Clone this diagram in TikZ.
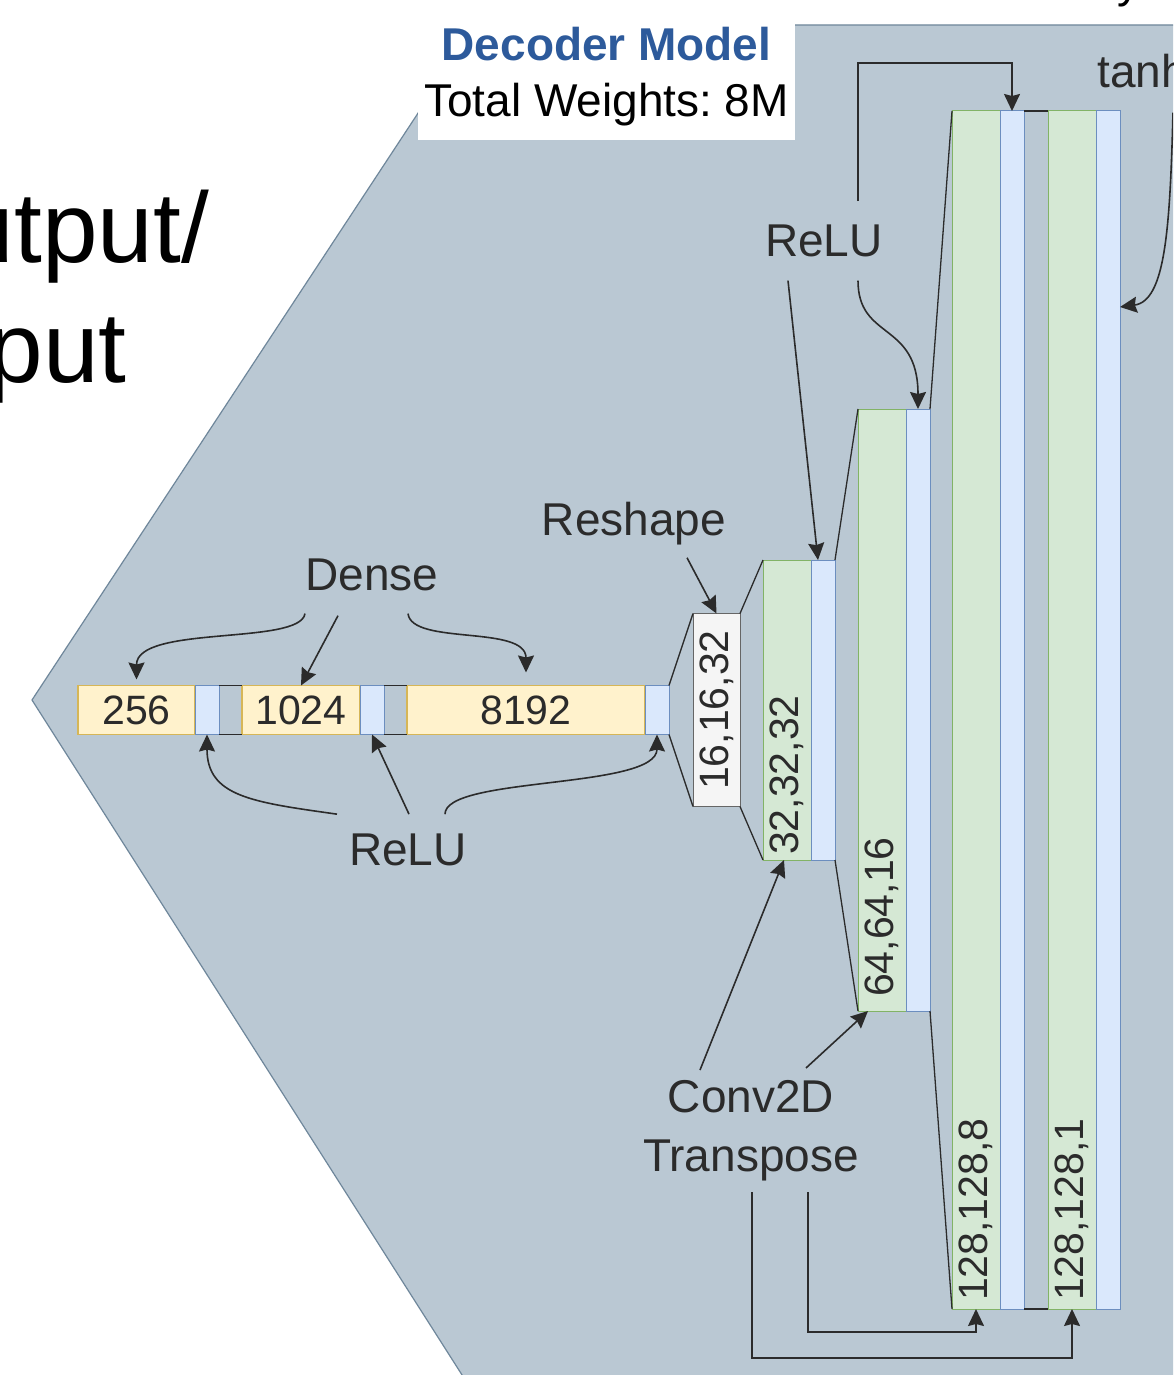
\documentclass[tikz,border=0pt]{standalone}
\usepackage{fontspec}
\setmainfont{Liberation Sans}
\usepackage{tikz}
\usetikzlibrary{arrows.meta,positioning,calc}
\definecolor{panel}{HTML}{BAC8D3}
\definecolor{panelline}{HTML}{6F879B}
\definecolor{densefill}{HTML}{FFF2CC}
\definecolor{denseline}{HTML}{D6B656}
\definecolor{actfill}{HTML}{DAE8FC}
\definecolor{actline}{HTML}{6C8EBF}
\definecolor{convfill}{HTML}{D5E8D4}
\definecolor{convline}{HTML}{82B366}
\definecolor{ink}{HTML}{2B2B2B}
\definecolor{titleblue}{HTML}{2D5A9B}
\newcommand{\lblsize}{\fontsize{46}{59}\selectfont}
\newcommand{\numsize}{\fontsize{41}{49}\selectfont}
\newcommand{\bigsize}{\fontsize{100}{120}\selectfont}
\frenchspacing
\begin{document}
\begin{tikzpicture}[x=1pt,y=1pt,>={Stealth[length=17pt,width=16pt,inset=2pt]},
  dense/.style={draw=denseline,fill=densefill,line width=1.5pt,minimum height=49pt,inner sep=0pt,outer sep=0pt,font=\numsize,text=ink},
  act/.style={draw=actline,fill=actfill,line width=1pt,minimum width=24pt,inner sep=0pt,outer sep=0pt},
  gap/.style={minimum width=23pt,inner sep=0pt,outer sep=0pt},
  conv/.style={draw=convline,fill=convfill,line width=1pt,minimum width=48pt,inner sep=0pt,outer sep=0pt},
  reshapebox/.style={draw=black!60,fill=white!96!black,line width=1pt,minimum width=47pt,minimum height=193pt,inner sep=0pt,outer sep=0pt},
  dims/.style={rotate=90,anchor=west,font=\numsize,text=ink,inner sep=0pt},
  lbl/.style={font=\lblsize,text=ink,inner sep=0pt,align=center},
  wire/.style={draw=ink,line width=1.6pt},
  edge/.style={draw=ink,line width=1.3pt},
  node distance=0pt]
\useasboundingbox (0,0) rectangle (1173,-1375);
\clip (0,0) rectangle (1173,-1375);
\fill[white] (0,0) rectangle (1173,-1375);
\node[font=\bigsize,anchor=base east,inner sep=0pt] (outtxt) at (209,-262) {Output/};
\node[font=\bigsize,anchor=base east,inner sep=0pt] (intxt) at (127,-382) {Input};
\node[font=\lblsize,anchor=base west,inner sep=0pt] (ytxt) at (1117,2) {y};
\draw[panelline,fill=panel,line width=1.2pt] (476,-25) -- (1190,-25) -- (1190,-1400) -- (478,-1400) -- (32,-700) -- cycle;
\node[fill=white,minimum width=377pt,minimum height=128pt,anchor=north,inner sep=0pt,align=center,font=\fontsize{46}{56}\selectfont] (title) at (606.5,-12) {{\color{titleblue}\bfseries Decoder Model}\\Total Weights: 8M};
\node[dense,minimum width=117pt,anchor=west] (d256) at (78,-710) {256};
\node[act,minimum height=49pt,right=of d256] (a1) {};
\node[gap,minimum height=49pt,right=of a1] (g1) {};
\node[dense,minimum width=118pt,right=of g1] (d1024) {1024};
\node[act,minimum height=49pt,right=of d1024] (a2) {};
\node[gap,minimum height=49pt,right=of a2] (g2) {};
\node[dense,minimum width=238pt,right=of g2] (d8192) {8192};
\node[act,minimum height=49pt,right=of d8192] (a3) {};
\node[reshapebox,right=24pt of a3] (r) {};
\node[conv,minimum height=300pt,right=23pt of r] (c1) {};
\node[act,minimum height=300pt,right=of c1] (a4) {};
\node[conv,minimum height=602pt,right=23pt of a4] (c2) {};
\node[act,minimum height=602pt,right=of c2] (a5) {};
\node[conv,minimum height=1198pt,right=22pt of a5] (c3) {};
\node[act,minimum height=1198pt,right=of c3] (a6) {};
\node[gap,minimum width=24pt,minimum height=1198pt,right=of a6] (g3) {};
\node[conv,minimum height=1198pt,right=of g3] (c4) {};
\node[act,minimum height=1198pt,right=of c4] (a7) {};
\node[dims,anchor=center] (s0) at (r) {16,16,32};
\node[dims] (s1) at ($(c1.south)+(0,5)$) {32,32,32};
\node[dims] (s2) at ($(c2.south)+(0,14)$) {64,64,16};
\node[dims] (s3) at ($(c3.south)+(0,8)$) {128,128,8};
\node[dims] (s4) at ($(c4.south)+(0,8)$) {128,128,1};
\foreach \g in {g1,g2,g3} \draw[edge] (\g.north west) -- (\g.north east) (\g.south west) -- (\g.south east);
\foreach \a/\b in {a3/r,r/c1,a4/c2,a5/c3} \draw[edge] (\a.north east) -- (\b.north west) (\a.south east) -- (\b.south west);
\node[lbl,anchor=base] (dense) at (372,-590) {Dense};
\node[lbl,anchor=base] (relu1) at (408,-865) {ReLU};
\node[lbl,anchor=base] (reshape) at (634,-535) {Reshape};
\node[lbl,anchor=base] (relu2) at (824,-256) {ReLU};
\node[lbl] (conv) at (751,-1131) {Conv2D\\Transpose};
\node[lbl,anchor=base west] (tanh) at (1097,-88) {tanh};
\draw[wire,->] ($(dense.south)+(-67,-23)$) .. controls +(-5,-32) and +(0,55) .. ($(d256.north)+(0,6)$);
\draw[wire,->] ($(dense.south)+(-34,-25)$) -- (d1024.north);
\draw[wire,->] ($(dense.south)+(36,-23)$) .. controls +(4,-32) and +(0,48) .. ($(d8192.north)+(0,13)$);
\draw[wire,->] ($(relu1.north)+(-71,19)$) .. controls +(-85,12) and +(0,-62) .. (a1.south);
\draw[wire,->] ($(relu1.north)+(1,19)$) -- (a2.south);
\draw[wire,->] ($(relu1.north)+(37,19)$) .. controls +(0,38) and +(0,-55) .. (a3.south);
\draw[wire,->] ($(reshape.south)+(53,-13)$) -- (r.north);
\draw[wire,->] ($(relu2.south)+(-36,-24)$) -- ($(a4.north)+(-5,0)$);
\draw[wire,->] ($(relu2.south)+(34,-24)$) .. controls +(0,-60) and +(0,88) .. (a5.north);
\draw[wire,->] ($(relu2.north)+(34,23)$) -- ++(0,138) -| (a6.north);
\draw[wire,->] ($(tanh.south)+(31,-24)$) .. controls +(-3,-118) and +(45,6) .. ($(a7.north east)+(0,-196)$);
\draw[wire,->] ($(conv)+(-51,61)$) -- ($(c1.south)+(-3,0)$);
\draw[wire,->] ($(conv)+(55,63)$) -- ($(c2.south west)+(10,0)$);
\draw[wire,->] ($(conv)+(57,-61)$) -- ++(0,-140) -| (c3.south);
\draw[wire,->] ($(conv)+(1,-61)$) -- ++(0,-166) -| (c4.south);
\end{tikzpicture}
\end{document}
